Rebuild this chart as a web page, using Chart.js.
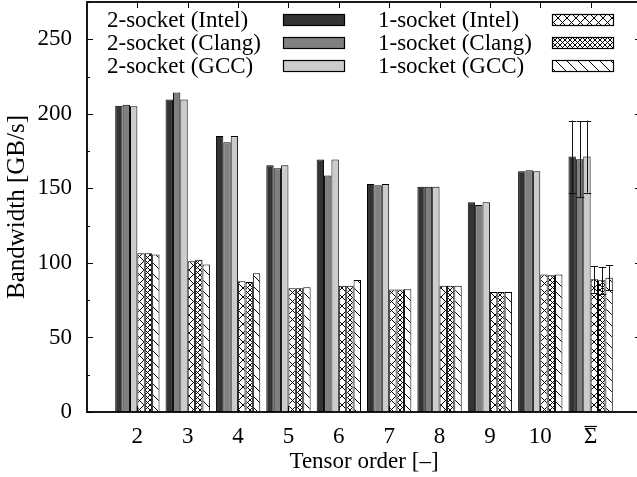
<!DOCTYPE html>
<html>
<head>
<meta charset="utf-8">
<script src="https://cdn.jsdelivr.net/npm/chart.js@4.4.1/dist/chart.umd.min.js"></script>
<style>
html,body{margin:0;padding:0;background:#fff;overflow:hidden;}
#wrap{width:645px;height:477px;}
</style>
</head>
<body>
<div id="wrap"><canvas id="c" width="645" height="477"></canvas></div>
<script>
// ---- data ----
const categories = ['2','3','4','5','6','7','8','9','10','\u03A3'];
const overlinedCategory = 9; // the mean column is written as an overlined sigma
const seriesLabels = ['2-socket (Intel)','2-socket (Clang)','2-socket (GCC)','1-socket (Intel)','1-socket (Clang)','1-socket (GCC)'];
const twoIntel = [205.4, 209.6, 185.2, 165.5, 169.3, 153.0, 151.0, 140.7, 161.5, 171.3];
const twoClang = [206.0, 214.3, 181.0, 163.5, 158.6, 152.1, 151.0, 138.9, 162.2, 169.6];
const twoGCC   = [205.0, 209.6, 185.2, 165.5, 169.3, 153.0, 151.0, 140.7, 161.5, 171.3];
const oneIntel = [106.5, 101.1, 87.7, 83.0, 84.6, 82.1, 84.6, 80.5, 92.2, 89.0];
const oneClang = [106.5, 102.2, 87.2, 83.0, 84.6, 82.1, 84.6, 80.5, 91.7, 88.4];
const oneGCC   = [105.6, 98.9, 93.0, 83.7, 88.6, 82.3, 84.6, 80.5, 92.2, 90.0];
// error bars (only the mean column)
const errTwoIntel = [null,null,null,null,null,null,null,null,null,24.2];
const errTwoClang = [null,null,null,null,null,null,null,null,null,25.5];
const errTwoGCC   = [null,null,null,null,null,null,null,null,null,24.2];
const errOneIntel = [null,null,null,null,null,null,null,null,null,9.0];
const errOneClang = [null,null,null,null,null,null,null,null,null,9.0];
const errOneGCC   = [null,null,null,null,null,null,null,null,null,8.5];
const yTicks = [0, 50, 100, 150, 200, 250];

const FONT = '"Liberation Serif", "DejaVu Serif", serif';
const FS = 23;

function makePattern(kind) {
  const s = kind === 'cross' ? 9 : kind === 'dense' ? 5 : 11;
  const c = document.createElement('canvas');
  c.width = s; c.height = s;
  const g = c.getContext('2d');
  g.fillStyle = '#fff'; g.fillRect(0,0,s,s);
  g.strokeStyle = '#000'; g.lineWidth = 1;
  g.beginPath();
  for (const o of [-s, 0, s]) {
    g.moveTo(o, 0); g.lineTo(o + s, s);          // "\"
    if (kind !== 'diag') { g.moveTo(o, s); g.lineTo(o + s, 0); } // "/"
  }
  g.stroke();
  return g.createPattern(c, 'repeat');
}

const fills = ['#333333', '#808080', '#cccccc', makePattern('cross'), makePattern('dense'), makePattern('diag')];
const values = [twoIntel, twoClang, twoGCC, oneIntel, oneClang, oneGCC];
const errs = [errTwoIntel, errTwoClang, errTwoGCC, errOneIntel, errOneClang, errOneGCC];

const datasets = values.map((arr, k) => ({
  label: seriesLabels[k],
  data: arr.map((v, i) => ({x: i, y: v})),
  errors: errs[k],
  backgroundColor: fills[k],
  borderColor: '#000',
  borderWidth: 1,
  borderSkipped: 'bottom',
  barPercentage: 1.0,
  categoryPercentage: 0.88
}));

// frame + inward ticks
const framePlugin = {
  id: 'frame',
  beforeDatasetsDraw(chart) {
    const {ctx, chartArea: a, scales: {x, y}} = chart;
    ctx.save();
    ctx.strokeStyle = '#000'; ctx.lineWidth = 1;
    ctx.beginPath();
    for (let v = 0; v <= 275; v += 25) {
      const py = Math.round(y.getPixelForValue(v)) + 0.5;
      const len = (v % 50 === 0) ? 6 : 3;
      ctx.moveTo(a.left, py); ctx.lineTo(a.left + len, py);
      ctx.moveTo(a.right, py); ctx.lineTo(a.right - len, py);
    }
    for (let i = 0; i < categories.length; i++) {
      const px = Math.round(x.getPixelForValue(i)) + 0.5;
      ctx.moveTo(px, a.top); ctx.lineTo(px, a.top + 6);
      ctx.moveTo(px, a.bottom); ctx.lineTo(px, a.bottom - 6);
    }
    ctx.stroke();
    ctx.restore();
  },
  afterDraw(chart) {
    const {ctx, chartArea: a, scales: {x}} = chart;
    ctx.save();
    ctx.strokeStyle = '#000'; ctx.lineWidth = 1.8;
    ctx.strokeRect(a.left, a.top, a.right - a.left, a.bottom - a.top);
    // overline on the mean label
    ctx.font = FS + 'px ' + FONT;
    const w = ctx.measureText(categories[overlinedCategory]).width;
    const cx = x.getPixelForValue(overlinedCategory);
    ctx.lineWidth = 1.2;
    ctx.beginPath();
    ctx.moveTo(cx - w / 2 + 0.5, 426.5); ctx.lineTo(cx + w / 2 - 0.5, 426.5);
    ctx.stroke();
    ctx.restore();
  }
};

const errorBarPlugin = {
  id: 'errbars',
  afterDatasetsDraw(chart) {
    const {ctx, scales: {y}} = chart;
    ctx.save();
    ctx.strokeStyle = '#111'; ctx.lineWidth = 1;
    chart.data.datasets.forEach((ds, k) => {
      const meta = chart.getDatasetMeta(k);
      ds.errors.forEach((e, i) => {
        if (e == null) return;
        const bar = meta.data[i];
        const v = ds.data[i].y;
        const x = Math.round(bar.x) + 0.5;
        const yt = y.getPixelForValue(v + e), yb = y.getPixelForValue(v - e);
        const hw = bar.width / 2;
        ctx.beginPath();
        ctx.moveTo(x, yt); ctx.lineTo(x, yb);
        ctx.moveTo(x - hw, Math.round(yt) + 0.5); ctx.lineTo(x + hw, Math.round(yt) + 0.5);
        ctx.moveTo(x - hw, Math.round(yb) + 0.5); ctx.lineTo(x + hw, Math.round(yb) + 0.5);
        ctx.stroke();
      });
    });
    ctx.restore();
  }
};

const legendPlugin = {
  id: 'keybox',
  afterDraw(chart) {
    const {ctx} = chart;
    const cols = [{tx: 107, sx: 283}, {tx: 378, sx: 552}];
    const rows = [20, 43, 66];
    ctx.save();
    ctx.font = FS + 'px ' + FONT;
    ctx.textBaseline = 'middle';
    ctx.textAlign = 'left';
    chart.data.datasets.forEach((ds, k) => {
      const c = cols[Math.floor(k / 3)], ry = rows[k % 3];
      ctx.fillStyle = '#000';
      ctx.fillText(ds.label, c.tx, ry + 1);
      ctx.fillStyle = ds.backgroundColor;
      ctx.fillRect(c.sx, ry - 6, 62, 12);
      ctx.strokeStyle = '#000'; ctx.lineWidth = 1.2;
      ctx.strokeRect(c.sx + 0.5, ry - 5.5, 61, 11);
    });
    ctx.restore();
  }
};

new Chart(document.getElementById('c'), {
  type: 'bar',
  data: {datasets},
  options: {
    responsive: false,
    animation: false,
    devicePixelRatio: 1,
    layout: {padding: {top: 2, right: 4, left: 0, bottom: 0}},
    plugins: {legend: {display: false}, tooltip: {enabled: false}},
    scales: {
      x: {
        type: 'linear',
        min: -1, max: 10,
        offset: false,
        grid: {display: false, drawTicks: false},
        border: {display: false},
        ticks: {
          stepSize: 1, autoSkip: false, maxRotation: 0, padding: 11,
          color: '#000', font: {family: FONT, size: FS},
          callback: (v) => (Number.isInteger(v) && v >= 0 && v < categories.length) ? categories[v] : ''
        },
        title: {display: true, text: 'Tensor order [\u2013]', color: '#000',
                font: {family: FONT, size: FS}, padding: {top: 0, bottom: 1}},
        afterFit: (s) => { s.height = 65; s.paddingLeft = 0; s.paddingRight = 0; }
      },
      y: {
        min: 0, max: 275,
        grid: {display: false, drawTicks: false},
        border: {display: false},
        afterBuildTicks: (s) => { s.ticks = yTicks.map(v => ({value: v})); },
        ticks: {padding: 15, color: '#000', font: {family: FONT, size: FS}},
        title: {display: true, text: 'Bandwidth [GB/s]', color: '#000',
                font: {family: FONT, size: 25}, padding: {top: 2, bottom: 0}},
        afterFit: (s) => { s.width = 87; s.paddingTop = 0; s.paddingBottom = 0; }
      }
    }
  },
  plugins: [framePlugin, errorBarPlugin, legendPlugin]
});
</script>
</body>
</html>
